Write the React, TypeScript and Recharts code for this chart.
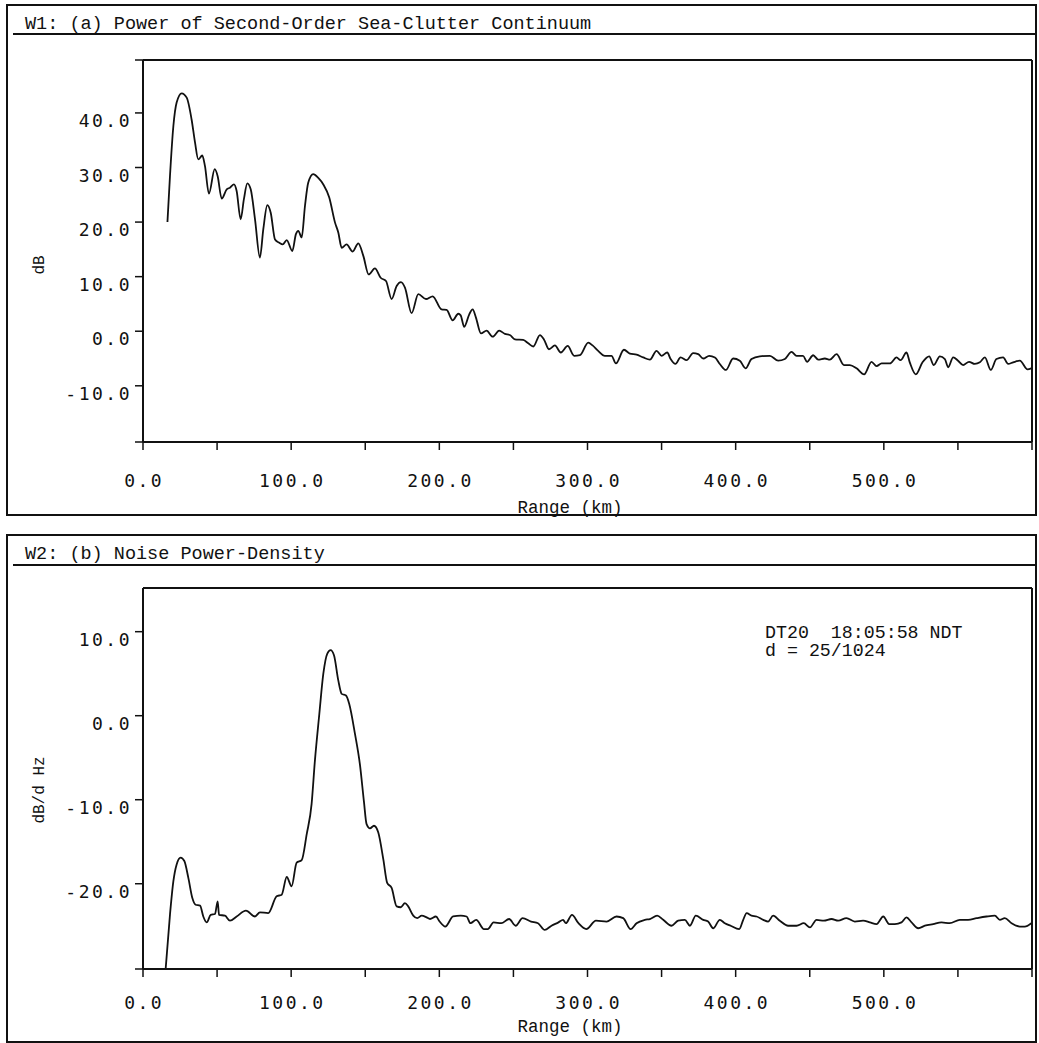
import { LineChart, Line, XAxis, YAxis, ReferenceLine } from "recharts";

// (a) sea-clutter continuum power, dB vs range (km)
const rangeA = [
  16.5, 18.2, 20.5, 22.7, 26.1, 29.5, 32.8, 35.1, 37.3, 40.0,
  41.8, 44.5, 48.4, 50.4, 53.1, 56.5, 58.7, 61.4, 63.2, 65.9,
  68.1, 70.4, 72.7, 75.6, 78.9, 81.2, 83.9, 86.2, 89.1, 92.0,
  94.3, 97.0, 100.8, 103.2, 104.8, 107.1, 109.3, 111.5, 114.9, 118.3,
  121.7, 125.7, 129.6, 131.8, 134.1, 137.4, 141.5, 145.3, 148.7, 152.3,
  156.5, 160.4, 164.0, 167.8, 171.2, 174.1, 176.8, 181.3, 185.8, 191.0,
  195.5, 201.5, 204.9, 209.0, 212.8, 214.4, 216.8, 220.2, 222.5, 224.7,
  228.1, 231.9, 236.0, 240.4, 244.3, 247.6, 251.0, 256.6, 260.0, 263.4,
  267.9, 270.6, 274.0, 278.0, 282.0, 286.6, 291.0, 294.9, 300.5, 303.4,
  307.2, 311.7, 316.2, 319.2, 324.6, 328.6, 333.1, 337.6, 342.1, 346.6,
  350.0, 353.8, 356.1, 359.4, 362.8, 366.9, 371.3, 374.7, 378.1, 382.1,
  386.0, 389.3, 393.4, 398.3, 402.8, 406.7, 410.7, 416.3, 423.1, 428.7,
  433.2, 437.7, 441.1, 445.5, 448.2, 452.3, 455.7, 460.2, 463.6, 468.1,
  473.1, 477.1, 481.6, 486.7, 491.7, 495.1, 498.5, 504.1, 508.6, 511.3,
  515.3, 517.5, 521.6, 526.1, 530.6, 533.7, 537.8, 541.2, 543.4, 546.8,
  550.1, 553.5, 557.5, 561.4, 564.8, 568.2, 572.2, 576.0, 580.5, 583.9,
  587.3, 591.8, 597.0, 599.5,
];
const powerA = [
  20.0, 28.4, 37.6, 41.9, 43.6, 42.8, 38.8, 34.6, 31.5, 32.2,
  30.3, 25.2, 29.7, 28.4, 24.3, 26.0, 26.3, 26.9, 25.7, 20.5,
  24.2, 27.1, 26.0, 20.5, 13.5, 18.7, 23.1, 21.7, 16.8, 16.2,
  15.9, 16.7, 14.7, 17.8, 18.4, 17.2, 22.9, 27.2, 28.8, 28.1,
  26.9, 24.5, 19.9, 18.1, 15.3, 15.9, 14.6, 16.1, 13.8, 10.4,
  11.5, 9.8, 9.2, 5.9, 8.3, 9.0, 8.0, 3.3, 6.8, 5.9,
  6.4, 4.0, 3.9, 2.0, 3.2, 2.9, 0.8, 3.1, 4.0, 2.5,
  -0.4, 0.1, -1.0, 0.1, -0.5, -0.7, -1.5, -1.6, -2.2, -2.8,
  -0.7, -1.5, -3.3, -2.6, -3.9, -2.7, -4.5, -4.4, -2.1, -2.6,
  -3.6, -4.5, -4.5, -5.9, -3.4, -4.1, -4.3, -4.8, -5.2, -3.6,
  -4.5, -3.9, -5.1, -6.0, -4.8, -5.3, -4.0, -4.2, -5.0, -4.5,
  -4.8, -6.0, -7.1, -5.0, -5.4, -6.8, -5.1, -4.6, -4.5, -5.4,
  -5.1, -3.8, -4.5, -4.5, -5.6, -4.4, -5.2, -5.0, -5.2, -4.2,
  -6.2, -6.2, -6.8, -7.9, -5.6, -6.4, -5.9, -5.9, -4.8, -5.3,
  -3.9, -5.7, -7.9, -5.7, -4.6, -6.2, -4.6, -5.1, -6.6, -4.8,
  -5.4, -6.2, -5.6, -6.0, -5.7, -4.8, -7.1, -5.1, -4.8, -6.0,
  -5.7, -5.4, -7.0, -6.8,
];

// (b) noise power density, dB/d Hz vs range (km)
const rangeB = [
  15.3, 18.2, 20.5, 22.7, 25.4, 27.9, 30.6, 33.3, 35.5, 38.5,
  40.7, 43.0, 45.7, 48.6, 50.4, 51.3, 55.3, 58.7, 63.2, 69.5,
  75.6, 78.9, 84.5, 90.2, 93.6, 97.0, 100.3, 103.7, 107.1, 110.5,
  113.8, 116.0, 119.0, 121.7, 124.4, 126.6, 128.9, 131.8, 134.1, 137.0,
  139.2, 143.1, 146.4, 149.1, 150.9, 153.2, 155.9, 158.8, 162.2, 164.8,
  167.8, 171.2, 173.9, 176.8, 179.0, 182.4, 185.1, 188.1, 191.4, 193.7,
  197.7, 200.2, 204.0, 209.3, 214.5, 218.4, 221.0, 224.9, 230.1, 232.7,
  236.6, 241.8, 247.1, 251.5, 256.2, 261.9, 266.6, 271.1, 275.7, 280.4,
  283.5, 285.4, 289.5, 293.9, 299.2, 305.7, 312.9, 319.6, 324.1, 329.1,
  333.1, 338.7, 342.1, 347.0, 351.1, 356.7, 361.2, 365.7, 369.1, 373.1,
  378.1, 381.4, 384.8, 389.3, 392.7, 396.6, 402.4, 405.1, 407.4, 410.7,
  414.1, 418.6, 421.9, 425.3, 429.8, 435.4, 441.1, 446.0, 450.1, 454.6,
  459.5, 464.7, 469.2, 474.8, 480.4, 486.0, 490.6, 495.1, 499.6, 503.6,
  507.4, 511.9, 515.3, 518.7, 523.2, 527.7, 533.3, 538.9, 544.5, 551.3,
  556.9, 562.6, 569.3, 574.9, 578.3, 581.6, 586.2, 591.8, 595.1, 599.5,
];
const noiseB = [
  -30.1, -23.7, -19.7, -17.7, -16.9, -17.3, -19.3, -21.7, -22.5, -22.6,
  -23.9, -24.6, -23.7, -23.6, -22.1, -23.7, -23.8, -24.4, -23.9, -23.2,
  -23.9, -23.4, -23.5, -21.5, -21.3, -19.2, -20.3, -17.5, -17.2, -14.1,
  -10.5, -5.4, 0.2, 5.0, 7.4, 7.8, 7.2, 4.2, 2.6, 2.4,
  1.4, -2.2, -5.8, -10.2, -12.9, -13.4, -13.1, -13.9, -17.1, -19.9,
  -20.5, -22.7, -22.8, -22.3, -22.7, -23.8, -24.1, -23.8, -24.0, -24.2,
  -23.9, -24.5, -25.1, -23.9, -23.8, -23.9, -24.7, -24.3, -25.4, -25.4,
  -24.6, -24.7, -24.2, -25.0, -24.1, -24.5, -24.7, -25.5, -25.0, -24.6,
  -24.3, -24.7, -23.7, -24.7, -25.4, -24.4, -24.5, -23.9, -24.1, -25.4,
  -24.7, -24.3, -24.2, -23.8, -24.3, -25.0, -24.4, -24.3, -25.0, -23.8,
  -24.3, -24.5, -25.3, -24.3, -24.7, -25.0, -25.4, -24.3, -23.5, -23.8,
  -23.9, -24.3, -24.5, -23.8, -24.4, -25.0, -25.0, -24.7, -25.2, -24.3,
  -24.4, -24.2, -24.4, -24.1, -24.5, -24.4, -24.6, -24.8, -23.9, -24.8,
  -24.8, -24.6, -24.0, -24.6, -25.3, -25.0, -24.8, -24.6, -24.7, -24.3,
  -24.3, -24.1, -23.9, -23.8, -24.3, -24.1, -24.7, -25.1, -25.1, -24.7,
];

const xTicks = [0, 50, 100, 150, 200, 250, 300, 350, 400, 450, 500, 550, 600];
const xLabelled = [0, 100, 200, 300, 400, 500];
const domainA: [number, number] = [-20.3, 49.7];
const yTicksA = [-20.3, -10, 0, 10, 20, 30, 40, 49.7];
const domainB: [number, number] = [-30.15, 15.2];
const yTicksB = [-30.15, -20, -10, 0, 10];
const yLabelled = [-20, -10, 0, 10, 20, 30, 40];

const INK = "#111";
const TICK_FONT = "'DejaVu Sans Mono', monospace";
const TEXT_FONT = "'Liberation Mono', 'DejaVu Sans Mono', monospace";

function makeXTick(drop: number) {
  return (props: any) => {
    const { x, y, payload } = props;
    const v = payload.value;
    if (!xLabelled.includes(v)) return <g />;
    return (
      <text x={x + 1.2} y={y + drop} textAnchor="middle" fontFamily={TICK_FONT}
        fontSize={18} letterSpacing={2.5} fill={INK}>
        {v.toFixed(1)}
      </text>
    );
  };
}

function YTick(props: any) {
  const { x, y, payload } = props;
  const v = payload.value;
  if (!yLabelled.includes(v)) return <g />;
  return (
    <text x={x - 3} y={y + 14} textAnchor="end" fontFamily={TICK_FONT}
      fontSize={18} letterSpacing={2.5} fill={INK}>
      {v.toFixed(1)}
    </text>
  );
}

function Panel(props: {
  rows: { x: number; y: number }[];
  domain: [number, number];
  yTicks: number[];
  height: number;
  margin: { top: number; right: number; bottom: number; left: number };
  xDrop: number;
}) {
  const { rows, domain, yTicks, height, margin, xDrop } = props;
  // axis boxes: y axis 60 wide, x axis 30 tall; margins are set so the plot lands on the frame
  return (
    <LineChart width={1039} height={height} data={rows}
      margin={{ top: margin.top, right: margin.right, bottom: margin.bottom - 30, left: margin.left - 60 }}>
      <XAxis dataKey="x" type="number" domain={[0, 600]} ticks={xTicks} interval={0}
        height={30} tickSize={8} tickMargin={0} tick={makeXTick(xDrop)}
        axisLine={{ stroke: INK, strokeWidth: 2 }} tickLine={{ stroke: INK, strokeWidth: 1.5 }} />
      <YAxis type="number" domain={domain} ticks={yTicks} interval={0} width={60}
        tickSize={8} tickMargin={0} tick={YTick} allowDataOverflow
        axisLine={{ stroke: INK, strokeWidth: 2 }} tickLine={{ stroke: INK, strokeWidth: 1.5 }} />
      <ReferenceLine y={domain[1]} stroke={INK} strokeWidth={2} />
      <ReferenceLine x={600} stroke={INK} strokeWidth={2} />
      <Line dataKey="y" type="monotone" stroke={INK} strokeWidth={1.8} dot={false}
        isAnimationActive={false} />
    </LineChart>
  );
}

export default function App() {
  const rowsA = rangeA.map((x, i) => ({ x, y: powerA[i] }));
  const rowsB = rangeB.map((x, i) => ({ x, y: noiseB[i] }));
  const txt = { fontFamily: TEXT_FONT, fill: INK } as const;

  return (
    <div style={{ position: "absolute", left: 0, top: 0, width: 1039, height: 1043, background: "#fff" }}>
      <svg width={1039} height={1043} style={{ position: "absolute", left: 0, top: 0 }}>
        <rect x={7} y={5} width={1029} height={510} fill="none" stroke={INK} strokeWidth={2} />
        <line x1={13} y1={34} x2={1036} y2={34} stroke={INK} strokeWidth={2} />
        <text x={25} y={29} fontSize={18.5} {...txt}>W1: (a) Power of Second-Order Sea-Clutter Continuum</text>
        <text x={44} y={265} fontSize={16} textAnchor="middle" transform="rotate(-90 44 265)" {...txt}>dB</text>
        <text x={570} y={513} fontSize={17.5} textAnchor="middle" {...txt}>Range (km)</text>

        <rect x={7} y={535} width={1029} height={507} fill="none" stroke={INK} strokeWidth={2} />
        <line x1={13} y1={565} x2={1036} y2={565} stroke={INK} strokeWidth={2} />
        <text x={25} y={559} fontSize={18.5} {...txt}>W2: (b) Noise Power-Density</text>
        <text x={44} y={790} fontSize={16} textAnchor="middle" transform="rotate(-90 44 790)" {...txt}>dB/d Hz</text>
        <text x={570} y={1032} fontSize={17.5} textAnchor="middle" {...txt}>Range (km)</text>
        <text x={765} y={638} fontSize={18.3} style={{ whiteSpace: "pre" }} {...txt}>DT20  18:05:58 NDT</text>
        <text x={765} y={656} fontSize={18.3} style={{ whiteSpace: "pre" }} {...txt}>d = 25/1024</text>
      </svg>
      <div style={{ position: "absolute", left: 0, top: 0 }}>
        <Panel rows={rowsA} domain={domainA} yTicks={yTicksA} height={520}
          margin={{ top: 60, right: 7, bottom: 78, left: 143 }} xDrop={37} />
      </div>
      <div style={{ position: "absolute", left: 0, top: 520 }}>
        <Panel rows={rowsB} domain={domainB} yTicks={yTicksB} height={523}
          margin={{ top: 68, right: 7, bottom: 74, left: 143 }} xDrop={32} />
      </div>
    </div>
  );
}
